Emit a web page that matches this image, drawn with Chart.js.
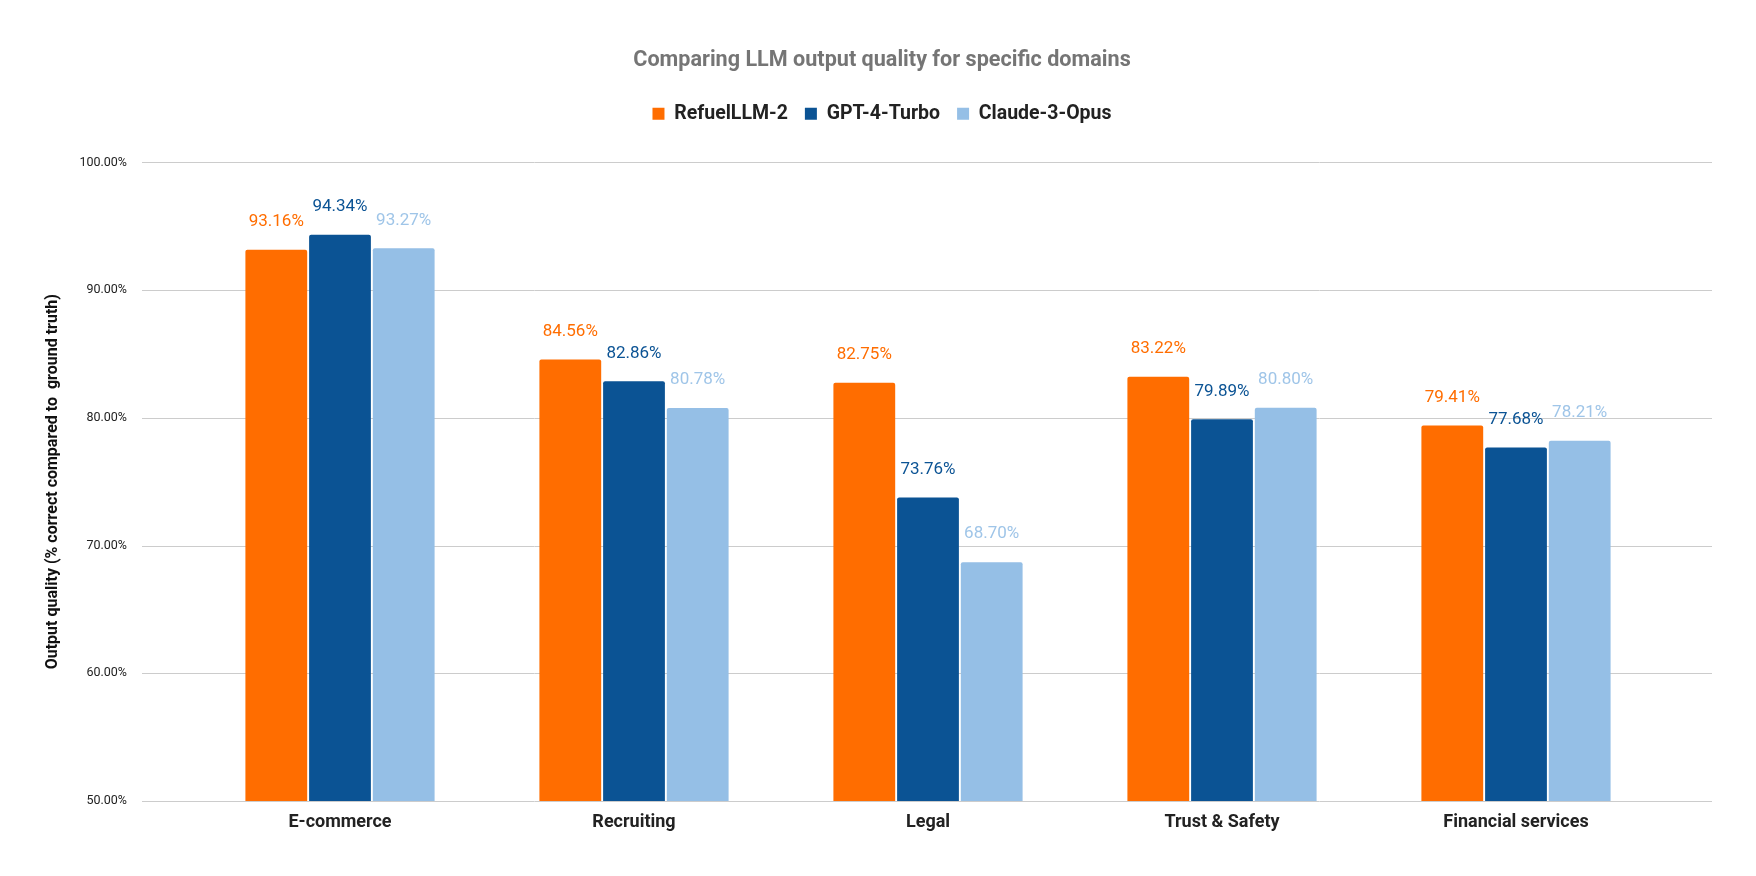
<!DOCTYPE html>
<html>
<head>
<meta charset="utf-8">
<script src="https://cdn.jsdelivr.net/npm/chart.js@4.4.1/dist/chart.umd.min.js"></script>
<style>
  html, body { margin: 0; padding: 0; background: #fff; }
  #wrap { width: 1756px; height: 876px; }
</style>
</head>
<body>
<div id="wrap"><canvas id="bars" width="1756" height="876"></canvas></div>
<script>
var domains = ['E-commerce', 'Recruiting', 'Legal', 'Trust & Safety', 'Financial services'];
var refuel = [93.16, 84.56, 82.75, 83.22, 79.41];
var gpt4Turbo = [94.34, 82.86, 73.76, 79.89, 77.68];
var claudeOpus = [93.27, 80.78, 68.70, 80.80, 78.21];
var yTicks = [50, 60, 70, 80, 90, 100];

var FONT = 'Roboto, "Noto Sans", sans-serif';

// horizontal grid lines run wider than the bars area
var gridPlugin = {
    id: 'wideGrid',
    beforeDatasetsDraw: function(chart) {
        var c = chart.ctx, y = chart.scales.y;
        c.save();
        c.strokeStyle = '#cccccc';
        c.lineWidth = 1;
        yTicks.forEach(function(t) {
            var py = Math.round(y.getPixelForValue(t)) + 0.5;
            c.beginPath();
            c.moveTo(142, py);
            c.lineTo(1712, py);
            c.stroke();
        });
        c.restore();
    }
};

var valueLabels = {
    id: 'valueLabels',
    afterDatasetsDraw: function(chart) {
        var c = chart.ctx;
        c.save();
        c.font = '17px ' + FONT;
        c.textAlign = 'center';
        c.textBaseline = 'middle';
        chart.data.datasets.forEach(function(ds, i) {
            chart.getDatasetMeta(i).data.forEach(function(bar, j) {
                c.fillStyle = ds.labelColor;
                c.fillText(ds.data[j].toFixed(2) + '%', bar.x, bar.y - 28);
            });
        });
        c.restore();
    }
};

var legendGap = {
    id: 'legendGap',
    beforeInit: function(chart) {
        var fit = chart.legend.fit;
        chart.legend.fit = function() {
            fit.call(this);
            this.height += 29;
        };
    }
};

var ctx = document.getElementById('bars').getContext('2d');
var chart = new Chart(ctx, {
    type: 'bar',
    data: {
        labels: domains,
        datasets: [
            { label: 'RefuelLLM-2', data: refuel, backgroundColor: '#ff6d00', labelColor: '#ff6d00' },
            { label: 'GPT-4-Turbo', data: gpt4Turbo, backgroundColor: '#0b5394', labelColor: '#0b5394' },
            { label: 'Claude-3-Opus', data: claudeOpus, backgroundColor: '#95bfe6', labelColor: '#9fc5e8' }
        ]
    },
    options: {
        responsive: false,
        animation: false,
        devicePixelRatio: 1,
        layout: { padding: { left: 8, right: 0, top: 0, bottom: 0 } },
        datasets: {
            bar: { categoryPercentage: 0.65, barPercentage: 0.97, borderRadius: 2, borderSkipped: 'bottom' }
        },
        plugins: {
            title: {
                display: true,
                text: 'Comparing LLM output quality for specific domains',
                color: '#757575',
                font: { family: FONT, size: 21.6, weight: 'bold' },
                padding: { top: 48, bottom: 13 }
            },
            legend: {
                position: 'top',
                labels: {
                    boxWidth: 12,
                    boxHeight: 12,
                    padding: 17,
                    color: '#222222',
                    font: { family: FONT, size: 19.5, weight: 'bold' }
                }
            },
            tooltip: { enabled: false }
        },
        scales: {
            x: {
                grid: { display: false },
                border: { display: false },
                ticks: { color: '#222222', padding: 3, font: { family: FONT, size: 18, weight: 'bold' } },
                afterFit: function(s) { s.height = 75; }
            },
            y: {
                min: 50,
                max: 100,
                grid: { display: false },
                border: { display: false },
                ticks: {
                    stepSize: 10,
                    padding: 58,
                    color: '#222222',
                    font: { family: FONT, size: 12.5 },
                    callback: function(v) { return v.toFixed(2) + '%'; }
                },
                title: {
                    display: true,
                    text: 'Output quality (% correct compared to  ground truth)',
                    color: '#111111',
                    font: { family: FONT, size: 16, weight: 'bold' },
                    padding: { top: 35.4, bottom: 0 }
                },
                afterFit: function(s) { s.width = 185; }
            },
            rightSpace: {
                type: 'linear',
                position: 'right',
                grid: { display: false },
                border: { display: false },
                ticks: { display: false },
                afterFit: function(s) { s.width = 93; }
            }
        }
    },
    plugins: [gridPlugin, valueLabels, legendGap]
});
</script>
</body>
</html>
